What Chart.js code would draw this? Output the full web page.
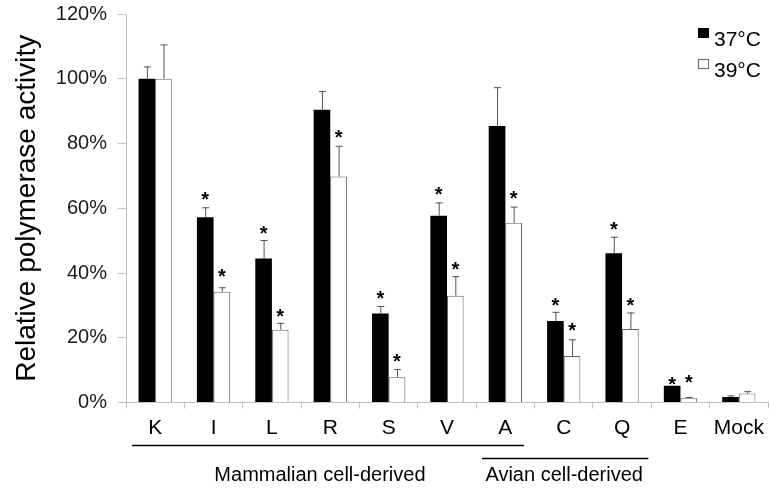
<!DOCTYPE html>
<html lang="en">
<head>
    <meta charset="UTF-8">
    <title>Relative polymerase activity</title>
    <script src="https://cdn.jsdelivr.net/npm/chart.js"></script>
    <style>
        html, body { margin: 0; padding: 0; background: #fff; }
        #wrap { width: 770px; height: 489px; }
    </style>
</head>
<body>
<div id="wrap"><canvas id="myChart" width="770" height="489"></canvas></div>
<script>
    // values (percent of K at 37°C)
    const labels = ['K', 'I', 'L', 'R', 'S', 'V', 'A', 'C', 'Q', 'E', 'Mock'];
    const act37 = [100, 57.2, 44.5, 90.4, 27.5, 57.7, 85.4, 25.2, 46.1, 5.2, 1.7];
    const act39 = [100, 34.2, 22.5, 69.8, 7.8, 33.0, 55.5, 14.4, 22.7, 1.3, 2.8];
    const err37 = [3.8, 3.1, 5.7, 5.8, 2.3, 4.1, 12.0, 2.8, 5.1, 0, 0.5];
    const err39 = [10.6, 1.4, 2.1, 9.5, 2.5, 6.0, 5.0, 5.1, 5.1, 0.4, 0.7];
    // where the significance asterisks sit (percent), null = none
    const star37 = [null, 64.1, 53.5, null, 33.4, 65.6, null, 31.3, 54.8, 6.9, null];
    const star39 = [null, 40.2, 28.0, 83.1, 14.1, 42.5, 64.4, 23.6, 31.3, 7.5, null];
    const yTicks = [0, 20, 40, 60, 80, 100, 120];

    // groups under the x axis
    const groupNames = ['Mammalian cell-derived', 'Avian cell-derived'];
    const groupFrom = ['K', 'A'];
    const groupTo = ['A', 'Q'];

    const FONT = 'Arial, "Liberation Sans", sans-serif';

    const errorBars = {
        id: 'errorBars',
        afterDatasetsDraw(chart) {
            const ctx = chart.ctx;
            const y = chart.scales.y;
            const errs = [err37, err39];
            const stars = [star37, star39];
            ctx.save();
            chart.data.datasets.forEach((ds, di) => {
                const meta = chart.getDatasetMeta(di);
                meta.data.forEach((bar, i) => {
                    const x = bar.x;
                    if (errs[di][i] > 0) {
                        const top = y.getPixelForValue(ds.data[i] + errs[di][i]);
                        ctx.strokeStyle = '#555';
                        ctx.lineWidth = 1;
                        ctx.beginPath();
                        ctx.moveTo(x + 0.5, bar.y);
                        ctx.lineTo(x + 0.5, top);
                        ctx.moveTo(x - 3, top + 0.5);
                        ctx.lineTo(x + 4, top + 0.5);
                        ctx.stroke();
                    }
                    if (stars[di][i] !== null) {
                        ctx.fillStyle = '#000';
                        ctx.font = 'bold 20px ' + FONT;
                        ctx.textAlign = 'center';
                        ctx.textBaseline = 'alphabetic';
                        ctx.fillText('*', x, y.getPixelForValue(stars[di][i]) + 11);
                    }
                });
            });
            ctx.restore();
        }
    };

    const extras = {
        id: 'extras',
        afterDraw(chart) {
            const ctx = chart.ctx;
            const xs = chart.scales.x;
            const bottom = chart.chartArea.bottom;
            const step = xs.getPixelForValue(1) - xs.getPixelForValue(0);
            ctx.save();
            // group lines and labels
            groupNames.forEach((name, g) => {
                const x1 = xs.getPixelForValue(labels.indexOf(groupFrom[g])) - 0.4 * step;
                const x2 = xs.getPixelForValue(labels.indexOf(groupTo[g])) + (g === 0 ? 0.32 : 0.45) * step;
                const ly = bottom + (g === 0 ? 43 : 56);
                ctx.strokeStyle = '#000';
                ctx.lineWidth = 1.5;
                ctx.beginPath();
                ctx.moveTo(x1, ly);
                ctx.lineTo(x2, ly);
                ctx.stroke();
                ctx.fillStyle = '#000';
                ctx.font = '20px ' + FONT;
                ctx.textAlign = 'center';
                ctx.textBaseline = 'alphabetic';
                ctx.fillText(name, (x1 + x2) / 2 - (g === 0 ? 8 : 1), bottom + 78);
            });
            // legend
            chart.data.datasets.forEach((ds, di) => {
                const ty = 46 + di * 31;
                ctx.fillStyle = ds.backgroundColor;
                ctx.fillRect(698, ty - 18, 11, 10);
                ctx.strokeStyle = ds.borderColor;
                ctx.lineWidth = 1;
                ctx.strokeRect(698.5, ty - 17.5, 10, 9);
                ctx.fillStyle = '#000';
                ctx.font = '21px ' + FONT;
                ctx.textAlign = 'left';
                ctx.fillText(ds.label, 714, ty);
            });
            ctx.restore();
        }
    };

    new Chart(document.getElementById('myChart'), {
        type: 'bar',
        data: {
            labels: labels,
            datasets: [
                {
                    label: '37°C',
                    data: act37,
                    backgroundColor: '#000',
                    borderColor: '#000',
                    borderWidth: 0
                },
                {
                    label: '39°C',
                    data: act39,
                    backgroundColor: '#fff',
                    borderColor: '#666',
                    borderWidth: 1
                }
            ]
        },
        options: {
            responsive: false,
            animation: false,
            layout: { padding: { top: 14, right: 2, bottom: 0, left: 0 } },
            datasets: { bar: { categoryPercentage: 0.57, barPercentage: 1.0 } },
            plugins: { legend: { display: false }, tooltip: { enabled: false } },
            scales: {
                x: {
                    grid: { drawOnChartArea: false, offset: true, tickLength: 6, color: '#c0c0c0' },
                    border: { color: '#c0c0c0' },
                    ticks: { color: '#000', font: { family: FONT, size: 21 }, padding: 7 },
                    afterFit: (s) => { s.height = 86.5; s.paddingLeft = 0; s.paddingRight = 0; }
                },
                y: {
                    min: 0,
                    max: 120,
                    afterBuildTicks: (s) => { s.ticks = yTicks.map(v => ({ value: v })); },
                    grid: { drawOnChartArea: false, tickLength: 8, color: '#c0c0c0' },
                    border: { color: '#c0c0c0' },
                    ticks: {
                        color: '#1a1a1a',
                        font: { family: FONT, size: 20 },
                        padding: 11,
                        callback: (v) => v + '%'
                    },
                    title: {
                        display: true,
                        text: 'Relative polymerase activity',
                        color: '#000',
                        font: { family: FONT, size: 28 },
                        padding: { top: 10, bottom: 0 }
                    },
                    afterFit: (s) => { s.width = 126; s.paddingTop = 0; s.paddingBottom = 0; }
                }
            }
        },
        plugins: [errorBars, extras]
    });
</script>
</body>
</html>
